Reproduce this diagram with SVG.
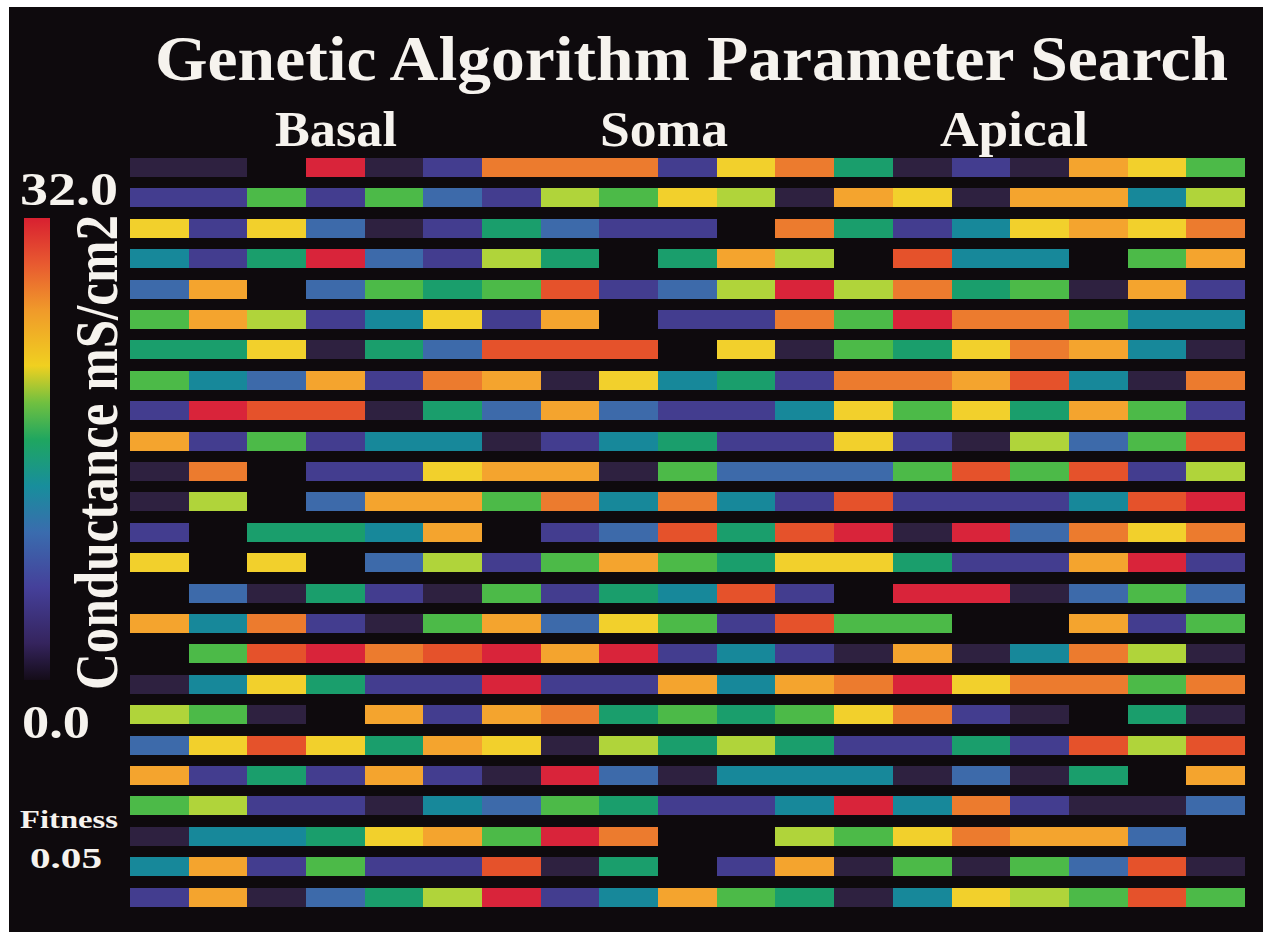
<svg xmlns="http://www.w3.org/2000/svg" width="1263" height="932" viewBox="0 0 1263 932">
<defs>
<style>
.D{fill:#2e2140}.P{fill:#433d8f}.B{fill:#3d6aaa}.T{fill:#17889a}.E{fill:#1a9e6c}.G{fill:#4cba48}.J{fill:#b0d43a}.Y{fill:#f2d02c}.A{fill:#f4a42e}.O{fill:#ec7b2e}.N{fill:#e5522b}.R{fill:#d9243a}
text{font-family:"Liberation Serif","Times New Roman",serif;font-weight:bold;fill:#f6f3ee}
</style>
<linearGradient id="cbar" x1="0" y1="1" x2="0" y2="0">
<stop offset="0" stop-color="#140c18"/>
<stop offset="0.08" stop-color="#35245e"/>
<stop offset="0.2" stop-color="#45409a"/>
<stop offset="0.32" stop-color="#3a6cae"/>
<stop offset="0.42" stop-color="#188e9c"/>
<stop offset="0.52" stop-color="#1fa660"/>
<stop offset="0.6" stop-color="#70c040"/>
<stop offset="0.68" stop-color="#f0d020"/>
<stop offset="0.8" stop-color="#f09a2a"/>
<stop offset="0.9" stop-color="#e85a30"/>
<stop offset="1" stop-color="#d82030"/>
</linearGradient>
</defs>
<rect x="0" y="0" width="1263" height="932" fill="#ffffff"/>
<rect x="9" y="7" width="1254" height="925" fill="#0e0a0d"/>
<g id="title">
<text x="155" y="80" font-size="64" textLength="1073" lengthAdjust="spacingAndGlyphs">Genetic Algorithm Parameter Search</text>
<text x="275" y="146" font-size="50" textLength="122" lengthAdjust="spacingAndGlyphs">Basal</text>
<text x="600" y="146" font-size="50" textLength="128" lengthAdjust="spacingAndGlyphs">Soma</text>
<text x="940" y="146" font-size="50" textLength="148" lengthAdjust="spacingAndGlyphs">Apical</text>
</g>
<g id="legend">
<text x="20" y="205" font-size="46" textLength="98" lengthAdjust="spacingAndGlyphs">32.0</text>
<rect x="24" y="218" width="26" height="462" fill="url(#cbar)"/>
<text transform="translate(117,690) rotate(-90)" font-size="62" textLength="475" lengthAdjust="spacingAndGlyphs">Conductance mS/cm2</text>
<text x="22" y="738" font-size="46" textLength="68" lengthAdjust="spacingAndGlyphs">0.0</text>
<text x="20" y="828" font-size="26" textLength="98" lengthAdjust="spacingAndGlyphs">Fitness</text>
<text x="30" y="868" font-size="30" textLength="72" lengthAdjust="spacingAndGlyphs">0.05</text>
</g>
<g id="grid">
<g transform="translate(0,158)"><rect x="130" width="59" height="19" class="D"/><rect x="189" width="58" height="19" class="D"/><rect x="306" width="59" height="19" class="R"/><rect x="365" width="58" height="19" class="D"/><rect x="423" width="59" height="19" class="P"/><rect x="482" width="59" height="19" class="O"/><rect x="541" width="58" height="19" class="O"/><rect x="599" width="59" height="19" class="O"/><rect x="658" width="59" height="19" class="P"/><rect x="717" width="58" height="19" class="Y"/><rect x="775" width="59" height="19" class="O"/><rect x="834" width="59" height="19" class="E"/><rect x="893" width="59" height="19" class="D"/><rect x="952" width="58" height="19" class="P"/><rect x="1010" width="59" height="19" class="D"/><rect x="1069" width="59" height="19" class="A"/><rect x="1128" width="58" height="19" class="Y"/><rect x="1186" width="59" height="19" class="G"/></g>
<g transform="translate(0,188)"><rect x="130" width="59" height="19" class="P"/><rect x="189" width="58" height="19" class="P"/><rect x="247" width="59" height="19" class="G"/><rect x="306" width="59" height="19" class="P"/><rect x="365" width="58" height="19" class="G"/><rect x="423" width="59" height="19" class="B"/><rect x="482" width="59" height="19" class="P"/><rect x="541" width="58" height="19" class="J"/><rect x="599" width="59" height="19" class="G"/><rect x="658" width="59" height="19" class="Y"/><rect x="717" width="58" height="19" class="J"/><rect x="775" width="59" height="19" class="D"/><rect x="834" width="59" height="19" class="A"/><rect x="893" width="59" height="19" class="Y"/><rect x="952" width="58" height="19" class="D"/><rect x="1010" width="59" height="19" class="A"/><rect x="1069" width="59" height="19" class="A"/><rect x="1128" width="58" height="19" class="T"/><rect x="1186" width="59" height="19" class="J"/></g>
<g transform="translate(0,219)"><rect x="130" width="59" height="19" class="Y"/><rect x="189" width="58" height="19" class="P"/><rect x="247" width="59" height="19" class="Y"/><rect x="306" width="59" height="19" class="B"/><rect x="365" width="58" height="19" class="D"/><rect x="423" width="59" height="19" class="P"/><rect x="482" width="59" height="19" class="E"/><rect x="541" width="58" height="19" class="B"/><rect x="599" width="59" height="19" class="P"/><rect x="658" width="59" height="19" class="P"/><rect x="775" width="59" height="19" class="O"/><rect x="834" width="59" height="19" class="E"/><rect x="893" width="59" height="19" class="P"/><rect x="952" width="58" height="19" class="T"/><rect x="1010" width="59" height="19" class="Y"/><rect x="1069" width="59" height="19" class="A"/><rect x="1128" width="58" height="19" class="Y"/><rect x="1186" width="59" height="19" class="O"/></g>
<g transform="translate(0,249)"><rect x="130" width="59" height="19" class="T"/><rect x="189" width="58" height="19" class="P"/><rect x="247" width="59" height="19" class="E"/><rect x="306" width="59" height="19" class="R"/><rect x="365" width="58" height="19" class="B"/><rect x="423" width="59" height="19" class="P"/><rect x="482" width="59" height="19" class="J"/><rect x="541" width="58" height="19" class="E"/><rect x="658" width="59" height="19" class="E"/><rect x="717" width="58" height="19" class="A"/><rect x="775" width="59" height="19" class="J"/><rect x="893" width="59" height="19" class="N"/><rect x="952" width="58" height="19" class="T"/><rect x="1010" width="59" height="19" class="T"/><rect x="1128" width="58" height="19" class="G"/><rect x="1186" width="59" height="19" class="A"/></g>
<g transform="translate(0,280)"><rect x="130" width="59" height="19" class="B"/><rect x="189" width="58" height="19" class="A"/><rect x="306" width="59" height="19" class="B"/><rect x="365" width="58" height="19" class="G"/><rect x="423" width="59" height="19" class="E"/><rect x="482" width="59" height="19" class="G"/><rect x="541" width="58" height="19" class="N"/><rect x="599" width="59" height="19" class="P"/><rect x="658" width="59" height="19" class="B"/><rect x="717" width="58" height="19" class="J"/><rect x="775" width="59" height="19" class="R"/><rect x="834" width="59" height="19" class="J"/><rect x="893" width="59" height="19" class="O"/><rect x="952" width="58" height="19" class="E"/><rect x="1010" width="59" height="19" class="G"/><rect x="1069" width="59" height="19" class="D"/><rect x="1128" width="58" height="19" class="A"/><rect x="1186" width="59" height="19" class="P"/></g>
<g transform="translate(0,310)"><rect x="130" width="59" height="19" class="G"/><rect x="189" width="58" height="19" class="A"/><rect x="247" width="59" height="19" class="J"/><rect x="306" width="59" height="19" class="P"/><rect x="365" width="58" height="19" class="T"/><rect x="423" width="59" height="19" class="Y"/><rect x="482" width="59" height="19" class="P"/><rect x="541" width="58" height="19" class="A"/><rect x="658" width="59" height="19" class="P"/><rect x="717" width="58" height="19" class="P"/><rect x="775" width="59" height="19" class="O"/><rect x="834" width="59" height="19" class="G"/><rect x="893" width="59" height="19" class="R"/><rect x="952" width="58" height="19" class="O"/><rect x="1010" width="59" height="19" class="O"/><rect x="1069" width="59" height="19" class="G"/><rect x="1128" width="58" height="19" class="T"/><rect x="1186" width="59" height="19" class="T"/></g>
<g transform="translate(0,340)"><rect x="130" width="59" height="19" class="E"/><rect x="189" width="58" height="19" class="E"/><rect x="247" width="59" height="19" class="Y"/><rect x="306" width="59" height="19" class="D"/><rect x="365" width="58" height="19" class="E"/><rect x="423" width="59" height="19" class="B"/><rect x="482" width="59" height="19" class="N"/><rect x="541" width="58" height="19" class="N"/><rect x="599" width="59" height="19" class="N"/><rect x="717" width="58" height="19" class="Y"/><rect x="775" width="59" height="19" class="D"/><rect x="834" width="59" height="19" class="G"/><rect x="893" width="59" height="19" class="E"/><rect x="952" width="58" height="19" class="Y"/><rect x="1010" width="59" height="19" class="O"/><rect x="1069" width="59" height="19" class="A"/><rect x="1128" width="58" height="19" class="T"/><rect x="1186" width="59" height="19" class="D"/></g>
<g transform="translate(0,371)"><rect x="130" width="59" height="19" class="G"/><rect x="189" width="58" height="19" class="T"/><rect x="247" width="59" height="19" class="B"/><rect x="306" width="59" height="19" class="A"/><rect x="365" width="58" height="19" class="P"/><rect x="423" width="59" height="19" class="O"/><rect x="482" width="59" height="19" class="A"/><rect x="541" width="58" height="19" class="D"/><rect x="599" width="59" height="19" class="Y"/><rect x="658" width="59" height="19" class="T"/><rect x="717" width="58" height="19" class="E"/><rect x="775" width="59" height="19" class="P"/><rect x="834" width="59" height="19" class="O"/><rect x="893" width="59" height="19" class="O"/><rect x="952" width="58" height="19" class="A"/><rect x="1010" width="59" height="19" class="N"/><rect x="1069" width="59" height="19" class="T"/><rect x="1128" width="58" height="19" class="D"/><rect x="1186" width="59" height="19" class="O"/></g>
<g transform="translate(0,401)"><rect x="130" width="59" height="19" class="P"/><rect x="189" width="58" height="19" class="R"/><rect x="247" width="59" height="19" class="N"/><rect x="306" width="59" height="19" class="N"/><rect x="365" width="58" height="19" class="D"/><rect x="423" width="59" height="19" class="E"/><rect x="482" width="59" height="19" class="B"/><rect x="541" width="58" height="19" class="A"/><rect x="599" width="59" height="19" class="B"/><rect x="658" width="59" height="19" class="P"/><rect x="717" width="58" height="19" class="P"/><rect x="775" width="59" height="19" class="T"/><rect x="834" width="59" height="19" class="Y"/><rect x="893" width="59" height="19" class="G"/><rect x="952" width="58" height="19" class="Y"/><rect x="1010" width="59" height="19" class="E"/><rect x="1069" width="59" height="19" class="A"/><rect x="1128" width="58" height="19" class="G"/><rect x="1186" width="59" height="19" class="P"/></g>
<g transform="translate(0,432)"><rect x="130" width="59" height="19" class="A"/><rect x="189" width="58" height="19" class="P"/><rect x="247" width="59" height="19" class="G"/><rect x="306" width="59" height="19" class="P"/><rect x="365" width="58" height="19" class="T"/><rect x="423" width="59" height="19" class="T"/><rect x="482" width="59" height="19" class="D"/><rect x="541" width="58" height="19" class="P"/><rect x="599" width="59" height="19" class="T"/><rect x="658" width="59" height="19" class="E"/><rect x="717" width="58" height="19" class="P"/><rect x="775" width="59" height="19" class="P"/><rect x="834" width="59" height="19" class="Y"/><rect x="893" width="59" height="19" class="P"/><rect x="952" width="58" height="19" class="D"/><rect x="1010" width="59" height="19" class="J"/><rect x="1069" width="59" height="19" class="B"/><rect x="1128" width="58" height="19" class="G"/><rect x="1186" width="59" height="19" class="N"/></g>
<g transform="translate(0,462)"><rect x="130" width="59" height="19" class="D"/><rect x="189" width="58" height="19" class="O"/><rect x="306" width="59" height="19" class="P"/><rect x="365" width="58" height="19" class="P"/><rect x="423" width="59" height="19" class="Y"/><rect x="482" width="59" height="19" class="A"/><rect x="541" width="58" height="19" class="A"/><rect x="599" width="59" height="19" class="D"/><rect x="658" width="59" height="19" class="G"/><rect x="717" width="58" height="19" class="B"/><rect x="775" width="59" height="19" class="B"/><rect x="834" width="59" height="19" class="B"/><rect x="893" width="59" height="19" class="G"/><rect x="952" width="58" height="19" class="N"/><rect x="1010" width="59" height="19" class="G"/><rect x="1069" width="59" height="19" class="N"/><rect x="1128" width="58" height="19" class="P"/><rect x="1186" width="59" height="19" class="J"/></g>
<g transform="translate(0,492)"><rect x="130" width="59" height="19" class="D"/><rect x="189" width="58" height="19" class="J"/><rect x="306" width="59" height="19" class="B"/><rect x="365" width="58" height="19" class="A"/><rect x="423" width="59" height="19" class="A"/><rect x="482" width="59" height="19" class="G"/><rect x="541" width="58" height="19" class="O"/><rect x="599" width="59" height="19" class="T"/><rect x="658" width="59" height="19" class="O"/><rect x="717" width="58" height="19" class="T"/><rect x="775" width="59" height="19" class="P"/><rect x="834" width="59" height="19" class="N"/><rect x="893" width="59" height="19" class="P"/><rect x="952" width="58" height="19" class="P"/><rect x="1010" width="59" height="19" class="P"/><rect x="1069" width="59" height="19" class="T"/><rect x="1128" width="58" height="19" class="N"/><rect x="1186" width="59" height="19" class="R"/></g>
<g transform="translate(0,523)"><rect x="130" width="59" height="19" class="P"/><rect x="247" width="59" height="19" class="E"/><rect x="306" width="59" height="19" class="E"/><rect x="365" width="58" height="19" class="T"/><rect x="423" width="59" height="19" class="A"/><rect x="541" width="58" height="19" class="P"/><rect x="599" width="59" height="19" class="B"/><rect x="658" width="59" height="19" class="N"/><rect x="717" width="58" height="19" class="E"/><rect x="775" width="59" height="19" class="N"/><rect x="834" width="59" height="19" class="R"/><rect x="893" width="59" height="19" class="D"/><rect x="952" width="58" height="19" class="R"/><rect x="1010" width="59" height="19" class="B"/><rect x="1069" width="59" height="19" class="O"/><rect x="1128" width="58" height="19" class="Y"/><rect x="1186" width="59" height="19" class="O"/></g>
<g transform="translate(0,553)"><rect x="130" width="59" height="19" class="Y"/><rect x="247" width="59" height="19" class="Y"/><rect x="365" width="58" height="19" class="B"/><rect x="423" width="59" height="19" class="J"/><rect x="482" width="59" height="19" class="P"/><rect x="541" width="58" height="19" class="G"/><rect x="599" width="59" height="19" class="A"/><rect x="658" width="59" height="19" class="G"/><rect x="717" width="58" height="19" class="E"/><rect x="775" width="59" height="19" class="Y"/><rect x="834" width="59" height="19" class="Y"/><rect x="893" width="59" height="19" class="E"/><rect x="952" width="58" height="19" class="P"/><rect x="1010" width="59" height="19" class="P"/><rect x="1069" width="59" height="19" class="A"/><rect x="1128" width="58" height="19" class="R"/><rect x="1186" width="59" height="19" class="P"/></g>
<g transform="translate(0,584)"><rect x="189" width="58" height="19" class="B"/><rect x="247" width="59" height="19" class="D"/><rect x="306" width="59" height="19" class="E"/><rect x="365" width="58" height="19" class="P"/><rect x="423" width="59" height="19" class="D"/><rect x="482" width="59" height="19" class="G"/><rect x="541" width="58" height="19" class="P"/><rect x="599" width="59" height="19" class="E"/><rect x="658" width="59" height="19" class="T"/><rect x="717" width="58" height="19" class="N"/><rect x="775" width="59" height="19" class="P"/><rect x="893" width="59" height="19" class="R"/><rect x="952" width="58" height="19" class="R"/><rect x="1010" width="59" height="19" class="D"/><rect x="1069" width="59" height="19" class="B"/><rect x="1128" width="58" height="19" class="G"/><rect x="1186" width="59" height="19" class="B"/></g>
<g transform="translate(0,614)"><rect x="130" width="59" height="19" class="A"/><rect x="189" width="58" height="19" class="T"/><rect x="247" width="59" height="19" class="O"/><rect x="306" width="59" height="19" class="P"/><rect x="365" width="58" height="19" class="D"/><rect x="423" width="59" height="19" class="G"/><rect x="482" width="59" height="19" class="A"/><rect x="541" width="58" height="19" class="B"/><rect x="599" width="59" height="19" class="Y"/><rect x="658" width="59" height="19" class="G"/><rect x="717" width="58" height="19" class="P"/><rect x="775" width="59" height="19" class="N"/><rect x="834" width="59" height="19" class="G"/><rect x="893" width="59" height="19" class="G"/><rect x="1069" width="59" height="19" class="A"/><rect x="1128" width="58" height="19" class="P"/><rect x="1186" width="59" height="19" class="G"/></g>
<g transform="translate(0,644)"><rect x="189" width="58" height="19" class="G"/><rect x="247" width="59" height="19" class="N"/><rect x="306" width="59" height="19" class="R"/><rect x="365" width="58" height="19" class="O"/><rect x="423" width="59" height="19" class="N"/><rect x="482" width="59" height="19" class="R"/><rect x="541" width="58" height="19" class="A"/><rect x="599" width="59" height="19" class="R"/><rect x="658" width="59" height="19" class="P"/><rect x="717" width="58" height="19" class="T"/><rect x="775" width="59" height="19" class="P"/><rect x="834" width="59" height="19" class="D"/><rect x="893" width="59" height="19" class="A"/><rect x="952" width="58" height="19" class="D"/><rect x="1010" width="59" height="19" class="T"/><rect x="1069" width="59" height="19" class="O"/><rect x="1128" width="58" height="19" class="J"/><rect x="1186" width="59" height="19" class="D"/></g>
<g transform="translate(0,675)"><rect x="130" width="59" height="19" class="D"/><rect x="189" width="58" height="19" class="T"/><rect x="247" width="59" height="19" class="Y"/><rect x="306" width="59" height="19" class="E"/><rect x="365" width="58" height="19" class="P"/><rect x="423" width="59" height="19" class="P"/><rect x="482" width="59" height="19" class="R"/><rect x="541" width="58" height="19" class="P"/><rect x="599" width="59" height="19" class="P"/><rect x="658" width="59" height="19" class="A"/><rect x="717" width="58" height="19" class="T"/><rect x="775" width="59" height="19" class="A"/><rect x="834" width="59" height="19" class="O"/><rect x="893" width="59" height="19" class="R"/><rect x="952" width="58" height="19" class="Y"/><rect x="1010" width="59" height="19" class="O"/><rect x="1069" width="59" height="19" class="O"/><rect x="1128" width="58" height="19" class="G"/><rect x="1186" width="59" height="19" class="O"/></g>
<g transform="translate(0,705)"><rect x="130" width="59" height="19" class="J"/><rect x="189" width="58" height="19" class="G"/><rect x="247" width="59" height="19" class="D"/><rect x="365" width="58" height="19" class="A"/><rect x="423" width="59" height="19" class="P"/><rect x="482" width="59" height="19" class="A"/><rect x="541" width="58" height="19" class="O"/><rect x="599" width="59" height="19" class="E"/><rect x="658" width="59" height="19" class="G"/><rect x="717" width="58" height="19" class="E"/><rect x="775" width="59" height="19" class="G"/><rect x="834" width="59" height="19" class="Y"/><rect x="893" width="59" height="19" class="O"/><rect x="952" width="58" height="19" class="P"/><rect x="1010" width="59" height="19" class="D"/><rect x="1128" width="58" height="19" class="E"/><rect x="1186" width="59" height="19" class="D"/></g>
<g transform="translate(0,736)"><rect x="130" width="59" height="19" class="B"/><rect x="189" width="58" height="19" class="Y"/><rect x="247" width="59" height="19" class="N"/><rect x="306" width="59" height="19" class="Y"/><rect x="365" width="58" height="19" class="E"/><rect x="423" width="59" height="19" class="A"/><rect x="482" width="59" height="19" class="Y"/><rect x="541" width="58" height="19" class="D"/><rect x="599" width="59" height="19" class="J"/><rect x="658" width="59" height="19" class="E"/><rect x="717" width="58" height="19" class="J"/><rect x="775" width="59" height="19" class="E"/><rect x="834" width="59" height="19" class="P"/><rect x="893" width="59" height="19" class="P"/><rect x="952" width="58" height="19" class="E"/><rect x="1010" width="59" height="19" class="P"/><rect x="1069" width="59" height="19" class="N"/><rect x="1128" width="58" height="19" class="J"/><rect x="1186" width="59" height="19" class="N"/></g>
<g transform="translate(0,766)"><rect x="130" width="59" height="19" class="A"/><rect x="189" width="58" height="19" class="P"/><rect x="247" width="59" height="19" class="E"/><rect x="306" width="59" height="19" class="P"/><rect x="365" width="58" height="19" class="A"/><rect x="423" width="59" height="19" class="P"/><rect x="482" width="59" height="19" class="D"/><rect x="541" width="58" height="19" class="R"/><rect x="599" width="59" height="19" class="B"/><rect x="658" width="59" height="19" class="D"/><rect x="717" width="58" height="19" class="T"/><rect x="775" width="59" height="19" class="T"/><rect x="834" width="59" height="19" class="T"/><rect x="893" width="59" height="19" class="D"/><rect x="952" width="58" height="19" class="B"/><rect x="1010" width="59" height="19" class="D"/><rect x="1069" width="59" height="19" class="E"/><rect x="1186" width="59" height="19" class="A"/></g>
<g transform="translate(0,796)"><rect x="130" width="59" height="19" class="G"/><rect x="189" width="58" height="19" class="J"/><rect x="247" width="59" height="19" class="P"/><rect x="306" width="59" height="19" class="P"/><rect x="365" width="58" height="19" class="D"/><rect x="423" width="59" height="19" class="T"/><rect x="482" width="59" height="19" class="B"/><rect x="541" width="58" height="19" class="G"/><rect x="599" width="59" height="19" class="E"/><rect x="658" width="59" height="19" class="P"/><rect x="717" width="58" height="19" class="P"/><rect x="775" width="59" height="19" class="T"/><rect x="834" width="59" height="19" class="R"/><rect x="893" width="59" height="19" class="T"/><rect x="952" width="58" height="19" class="O"/><rect x="1010" width="59" height="19" class="P"/><rect x="1069" width="59" height="19" class="D"/><rect x="1128" width="58" height="19" class="D"/><rect x="1186" width="59" height="19" class="B"/></g>
<g transform="translate(0,827)"><rect x="130" width="59" height="19" class="D"/><rect x="189" width="58" height="19" class="T"/><rect x="247" width="59" height="19" class="T"/><rect x="306" width="59" height="19" class="E"/><rect x="365" width="58" height="19" class="Y"/><rect x="423" width="59" height="19" class="A"/><rect x="482" width="59" height="19" class="G"/><rect x="541" width="58" height="19" class="R"/><rect x="599" width="59" height="19" class="O"/><rect x="775" width="59" height="19" class="J"/><rect x="834" width="59" height="19" class="G"/><rect x="893" width="59" height="19" class="Y"/><rect x="952" width="58" height="19" class="O"/><rect x="1010" width="59" height="19" class="A"/><rect x="1069" width="59" height="19" class="A"/><rect x="1128" width="58" height="19" class="B"/></g>
<g transform="translate(0,857)"><rect x="130" width="59" height="19" class="T"/><rect x="189" width="58" height="19" class="A"/><rect x="247" width="59" height="19" class="P"/><rect x="306" width="59" height="19" class="G"/><rect x="365" width="58" height="19" class="P"/><rect x="423" width="59" height="19" class="P"/><rect x="482" width="59" height="19" class="N"/><rect x="541" width="58" height="19" class="D"/><rect x="599" width="59" height="19" class="E"/><rect x="717" width="58" height="19" class="P"/><rect x="775" width="59" height="19" class="A"/><rect x="834" width="59" height="19" class="D"/><rect x="893" width="59" height="19" class="G"/><rect x="952" width="58" height="19" class="D"/><rect x="1010" width="59" height="19" class="G"/><rect x="1069" width="59" height="19" class="B"/><rect x="1128" width="58" height="19" class="N"/><rect x="1186" width="59" height="19" class="D"/></g>
<g transform="translate(0,888)"><rect x="130" width="59" height="19" class="P"/><rect x="189" width="58" height="19" class="A"/><rect x="247" width="59" height="19" class="D"/><rect x="306" width="59" height="19" class="B"/><rect x="365" width="58" height="19" class="E"/><rect x="423" width="59" height="19" class="J"/><rect x="482" width="59" height="19" class="R"/><rect x="541" width="58" height="19" class="P"/><rect x="599" width="59" height="19" class="T"/><rect x="658" width="59" height="19" class="A"/><rect x="717" width="58" height="19" class="G"/><rect x="775" width="59" height="19" class="E"/><rect x="834" width="59" height="19" class="D"/><rect x="893" width="59" height="19" class="T"/><rect x="952" width="58" height="19" class="Y"/><rect x="1010" width="59" height="19" class="J"/><rect x="1069" width="59" height="19" class="G"/><rect x="1128" width="58" height="19" class="N"/><rect x="1186" width="59" height="19" class="G"/></g>
</g>
</svg>
